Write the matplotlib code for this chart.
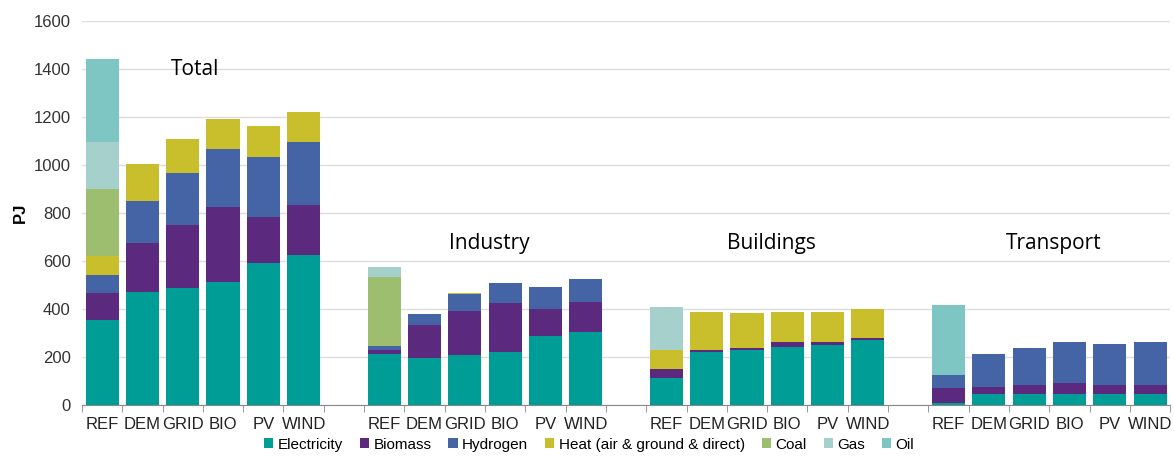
import numpy as np
import matplotlib
matplotlib.use("Agg")
import matplotlib.pyplot as plt

scenarios = ["REF", "DEM", "GRID", "BIO", "PV", "WIND"]
sectors = ["Total", "Industry", "Buildings", "Transport"]

# values in PJ, one list per sector (Total, Industry, Buildings, Transport)
electricity = [[354, 469, 488, 513, 590, 624],
               [214, 197, 207, 220, 289, 306],
               [113, 221, 231, 241, 252, 270],
               [10, 45, 45, 45, 45, 45]]
biomass = [[111, 205, 261, 314, 195, 211],
           [14, 135, 185, 207, 111, 125],
           [35, 10, 8, 22, 10, 9],
           [59, 31, 40, 45, 40, 40]]
hydrogen = [[75, 175, 220, 239, 247, 261],
            [17, 48, 69, 83, 90, 94],
            [0, 0, 0, 0, 0, 0],
            [58, 135, 154, 171, 170, 178]]
heat = [[82, 157, 141, 127, 129, 124],
        [0, 0, 4, 0, 0, 0],
        [80, 155, 143, 124, 124, 120],
        [0, 0, 0, 0, 0, 0]]
coal = [[280, 0, 0, 0, 0, 0],
        [289, 0, 0, 0, 0, 0],
        [0, 0, 0, 0, 0, 0],
        [0, 0, 0, 0, 0, 0]]
gas = [[194, 0, 0, 0, 0, 0],
       [43, 0, 0, 0, 0, 0],
       [182, 0, 0, 0, 0, 0],
       [0, 0, 0, 0, 0, 0]]
oil = [[347, 0, 0, 0, 0, 0],
       [0, 0, 0, 0, 0, 0],
       [0, 0, 0, 0, 0, 0],
       [291, 0, 0, 0, 0, 0]]

series = [("Electricity", electricity, "#009D97"),
          ("Biomass", biomass, "#5B2A7E"),
          ("Hydrogen", hydrogen, "#4464A6"),
          ("Heat (air & ground & direct)", heat, "#C9BF2C"),
          ("Coal", coal, "#9DBE6E"),
          ("Gas", gas, "#A5D0CC"),
          ("Oil", oil, "#7DC6C4")]

plt.rcParams["font.family"] = ["Liberation Sans", "DejaVu Sans"]

fig = plt.figure(figsize=(11.74, 4.57), dpi=100)
ax = fig.add_axes([0.0698, 0.1138, 0.927, 0.840])

# one empty slot between sectors
n = len(scenarios)
positions = []
labels = []
for g in range(len(sectors)):
    for i in range(n):
        positions.append(g * (n + 1) + i)
        labels.append(scenarios[i])
positions = np.array(positions)

bottom = np.zeros(len(positions))
for name, vals, color in series:
    v = np.array(vals, dtype=float).ravel()
    ax.bar(positions, v, bottom=bottom, width=0.82, color=color, label=name, zorder=3)
    bottom += v

for g, s in enumerate(sectors):
    if s == "Total":
        ax.text(g * (n + 1) + 2.3, 1400, s, fontsize=15, family=["Open Sans", "DejaVu Sans"],
                ha="center", va="center", zorder=4)
    else:
        ax.text(g * (n + 1) + 2.6, 675, s, fontsize=15, family=["Open Sans", "DejaVu Sans"],
                ha="center", va="center", zorder=4)

total_slots = len(sectors) * (n + 1) - 1
ax.set_xlim(-0.5, total_slots - 0.5)
ax.set_ylim(0, 1600)
ax.set_yticks(range(0, 1601, 200))
ax.set_xticks(positions)
ax.set_xticklabels(labels)
ax.set_xticks(np.arange(-0.5, total_slots, 1.0), minor=True)
ax.tick_params(axis="x", which="major", length=0, labelsize=12, colors="#222222", pad=9)
ax.tick_params(axis="x", which="minor", length=5, color="#888888")
ax.tick_params(axis="y", length=0, labelsize=12, colors="#333333", pad=8)
ax.grid(axis="y", color="#DDDDDD", linewidth=1, zorder=0)
for side in ["top", "right", "left"]:
    ax.spines[side].set_visible(False)
ax.spines["bottom"].set_color("#888888")
ax.set_ylabel("PJ", fontsize=12, fontweight="bold", labelpad=4)

ax.legend(loc="upper center", bbox_to_anchor=(0.466, -0.085), ncol=7, frameon=False,
          fontsize=11, handlelength=0.6, handleheight=0.6, handletextpad=0.3,
          columnspacing=1.1, borderaxespad=0, borderpad=0)

fig.savefig("out.png", dpi=100)
